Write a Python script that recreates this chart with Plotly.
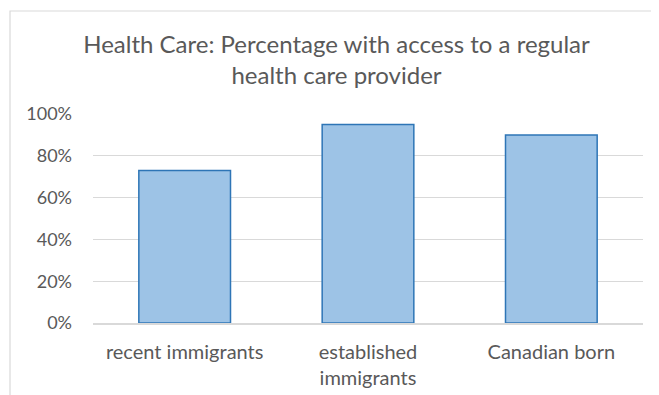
import plotly.graph_objects as go

categories = ["recent immigrants", "established<br>immigrants", "Canadian born"]
values = [0.73, 0.95, 0.90]
tick_vals = [0, 0.2, 0.4, 0.6, 0.8, 1.0]
tick_text = ["0%", "20%", "40%", "60%", "80%", "100%"]
title_text = "Health Care: Percentage with access to a regular<br>health care provider"

FONT = "Lato, Open Sans, sans-serif"
GREY = "#595959"

# page is offset by ~8px (body margin); compensate
W, H = 651, 387

fig = go.Figure()
fig.add_trace(go.Bar(
    x=categories, y=values,
    marker=dict(color="#9DC3E6", line=dict(color="#2E75B6", width=1.5)),
    width=0.5,
))

fig.update_layout(
    width=W, height=H,
    margin=dict(l=85, r=16, t=106, b=72),
    paper_bgcolor="white", plot_bgcolor="white",
    showlegend=False,
    font=dict(family=FONT, color=GREY, size=18),
    title=dict(text=title_text, x=328.5 / W, xanchor="center",
               y=1 - 45 / H, yanchor="middle",
               font=dict(family=FONT, size=24, color=GREY)),
    xaxis=dict(showline=True, linecolor="#d9d9d9", linewidth=1.5,
               ticks="", tickfont=dict(size=20, color=GREY), showgrid=False,
               ticklabelstandoff=10, automargin=False),
    yaxis=dict(range=[0, 1.0], tickvals=tick_vals, ticktext=tick_text,
               showgrid=True, gridcolor="#d9d9d9", gridwidth=1.2,
               zeroline=False, showline=False, ticks="",
               tickfont=dict(size=18, color=GREY), ticklabelstandoff=20,
               automargin=False),
    shapes=[dict(type="rect", xref="paper", yref="paper",
                 x0=(10 - 93) / 550, x1=(657 - 93) / 550,
                 y0=-0.5, y1=(323 - 11) / 209,
                 line=dict(color="#d9d9d9", width=1.2), fillcolor="rgba(0,0,0,0)")],
)

fig.write_html("out.html")
